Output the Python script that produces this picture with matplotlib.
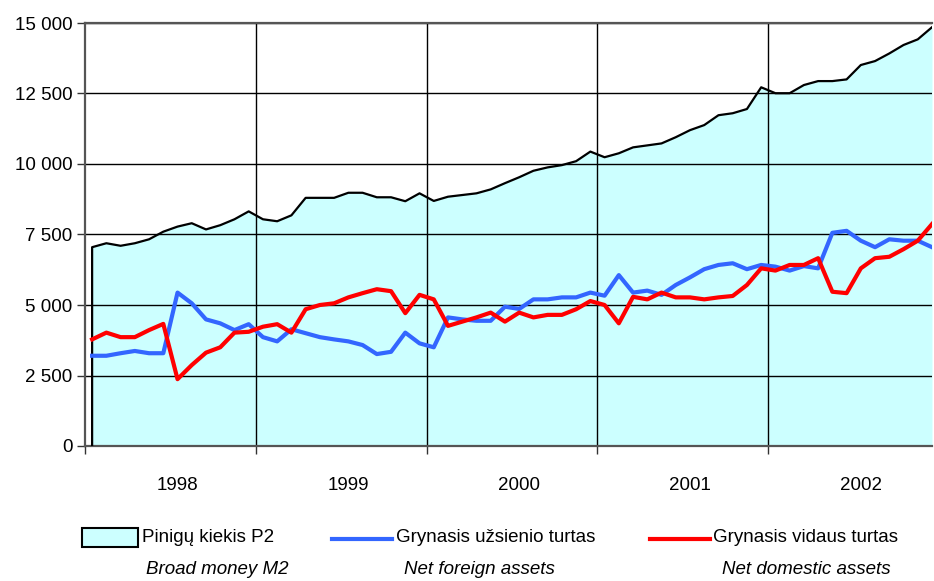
import numpy as np
import matplotlib.pyplot as plt
from matplotlib.patches import Rectangle
from matplotlib.lines import Line2D

# monthly data, Jan 1998 - Dec 2002 (mln. Lt)
broad_money = [7050, 7190, 7100, 7190, 7330, 7600, 7780, 7900, 7680, 7830, 8040, 8320,
               8040, 7970, 8180, 8800, 8800, 8800, 8980, 8980, 8820, 8820, 8680, 8960,
               8690, 8840, 8900, 8960, 9100, 9320, 9530, 9760, 9880, 9960, 10100, 10440,
               10240, 10380, 10590, 10660, 10730, 10950, 11200, 11380, 11730, 11800, 11950, 12720,
               12510, 12510, 12800, 12940, 12940, 13000, 13510, 13650, 13920, 14220, 14420, 14850]
net_foreign = [3200, 3200, 3290, 3370, 3290, 3290, 5440, 5060, 4490, 4350, 4110, 4320,
               3860, 3710, 4140, 4000, 3860, 3780, 3710, 3580, 3260, 3340, 4020, 3640,
               3500, 4560, 4490, 4440, 4440, 4940, 4860, 5200, 5200, 5270, 5270, 5440,
               5330, 6060, 5440, 5510, 5360, 5710, 5980, 6270, 6420, 6480, 6270, 6420,
               6360, 6220, 6380, 6300, 7560, 7630, 7280, 7050, 7330, 7280, 7280, 7050]
net_domestic = [3780, 4020, 3860, 3860, 4110, 4330, 2370, 2870, 3310, 3500, 4020, 4050,
                4230, 4320, 4020, 4850, 5000, 5060, 5270, 5420, 5560, 5490, 4710, 5360,
                5200, 4260, 4410, 4560, 4730, 4410, 4730, 4560, 4650, 4650, 4850, 5140,
                5000, 4350, 5290, 5200, 5440, 5270, 5270, 5200, 5270, 5320, 5710, 6300,
                6220, 6420, 6420, 6660, 5470, 5420, 6300, 6660, 6710, 6980, 7280, 7870]
years = ['1998', '1999', '2000', '2001', '2002']
yticks = [0, 2500, 5000, 7500, 10000, 12500, 15000]

plt.rcParams['font.family'] = ['Liberation Sans', 'DejaVu Sans']

x = np.arange(len(broad_money))
fig = plt.figure(figsize=(9.34, 5.81), dpi=100)
ax = fig.add_axes([85/934, 135/581, 847/934, 423/581])

ax.fill_between(x, broad_money, 0, color='#CCFFFF', lw=0, zorder=1)
ax.plot(np.r_[0, x], np.r_[0, broad_money], color='black', lw=1.6, zorder=3)
ax.plot(x, net_foreign, color='#3366FF', lw=3, zorder=4)
ax.plot(x, net_domestic, color='#FF0000', lw=3, zorder=5)

ax.set_xlim(-0.5, 59)
ax.set_ylim(0, 15000)

# grid
for v in yticks[1:]:
    ax.axhline(v, color='black', lw=1, zorder=2)
for k in range(1, 5):
    ax.axvline(12*k - 0.5, color='black', lw=1, zorder=2)

ax.set_yticks(yticks)
ax.set_yticklabels(['{:,}'.format(v).replace(',', ' ') for v in yticks], fontsize=13.5)
ax.set_xticks([12*k - 0.5 for k in range(5)])
ax.set_xticklabels([])
ax.tick_params(direction='out', length=6, width=1, color='#333333', pad=3)
for k, yr in enumerate(years):
    ax.text(12*k + 6, -1400, yr, ha='center', va='center', fontsize=13.5)

for s in ax.spines.values():
    s.set_color('#555555')
    s.set_linewidth(1.6)
ax.spines['right'].set_visible(False)

# legend
fig.add_artist(Rectangle((82/934, 1 - 547/581), 56/934, 19/581, transform=fig.transFigure,
                         facecolor='#CCFFFF', edgecolor='black', lw=1.5))
fig.add_artist(Line2D([332/934, 392/934], [1 - 539/581]*2, transform=fig.transFigure,
                      color='#3366FF', lw=3))
fig.add_artist(Line2D([650/934, 710/934], [1 - 539/581]*2, transform=fig.transFigure,
                      color='#FF0000', lw=3))
fig.text(142/934, 1 - 538/581, 'Pinigų kiekis P2', va='center', fontsize=13.5)
fig.text(396/934, 1 - 538/581, 'Grynasis užsienio turtas', va='center', fontsize=13.5)
fig.text(713/934, 1 - 538/581, 'Grynasis vidaus turtas', va='center', fontsize=13.5)
fig.text(146/934, 1 - 570/581, 'Broad money M2', va='center', fontsize=13.5, style='italic')
fig.text(404/934, 1 - 570/581, 'Net foreign assets', va='center', fontsize=13.5, style='italic')
fig.text(722/934, 1 - 570/581, 'Net domestic assets', va='center', fontsize=13.5, style='italic')

plt.savefig('out.png', dpi=100)
